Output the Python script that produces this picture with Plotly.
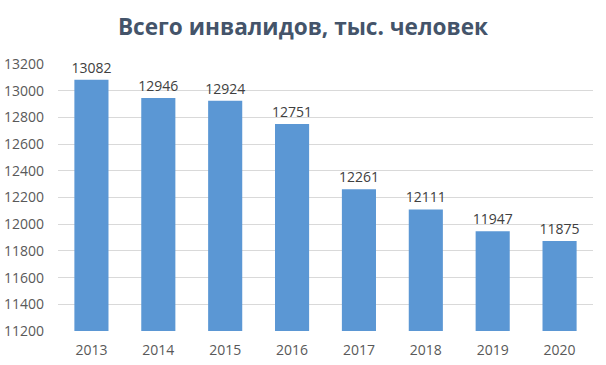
import plotly.graph_objects as go

years = ["2013", "2014", "2015", "2016", "2017", "2018", "2019", "2020"]
values = [13082, 12946, 12924, 12751, 12261, 12111, 11947, 11875]
y_ticks = list(range(11200, 13201, 200))

fig = go.Figure()
fig.add_trace(go.Bar(
    x=years, y=values,
    marker=dict(color="#5b97d4", line=dict(width=0)),
    text=[str(v) for v in values], textposition="outside",
    textfont=dict(family="Open Sans", size=14, color="#404040"),
    constraintext="none",
    cliponaxis=False, width=0.51,
))
fig.update_layout(
    width=606, height=365,
    margin=dict(l=58, r=13, t=64, b=34, autoexpand=False),
    paper_bgcolor="white", plot_bgcolor="white",
    title=dict(text="<b>Всего инвалидов, тыс. человек</b>", x=0.5, xanchor="center",
               y=0.925, yanchor="middle", automargin=False,
               font=dict(family="Open Sans", size=22.6, color="#44546a")),
    showlegend=False,
)
fig.update_yaxes(range=[11200, 13200], tickvals=y_ticks, ticktext=[str(t) for t in y_ticks],
                 showgrid=True, gridcolor="#d9d9d9", gridwidth=1, zeroline=False,
                 tickfont=dict(family="Open Sans", size=14, color="#595959"), ticks="",
                 ticklabelstandoff=13, automargin=False)
fig.update_xaxes(showgrid=False, showline=False,
                 tickfont=dict(family="Open Sans", size=14, color="#595959"), ticks="",
                 ticklabelstandoff=9, automargin=False)
fig.write_html("out.html", post_script="document.body.style.margin='0';",
               config={"displayModeBar": False})
